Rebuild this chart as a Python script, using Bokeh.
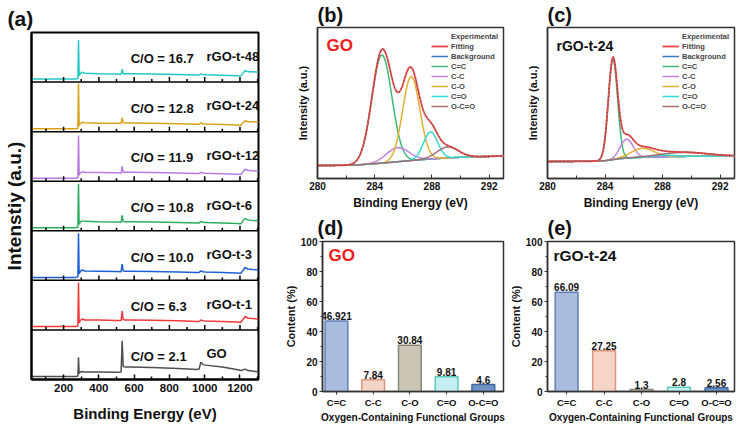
import numpy as np
from bokeh.plotting import figure
from bokeh.models import Range1d, Span, Label, Legend, LegendItem, FixedTicker
from bokeh.layouts import row, column
from bokeh.embed import file_html
from bokeh.resources import INLINE
from bokeh.core.properties import value

FONT = "Liberation Sans"

# ---------------- (a) XPS survey spectra ----------------
SURVEY_X = [20, 150, 270, 281, 284.5, 288, 295, 305, 320, 400, 500, 526, 532, 538, 550, 580,
            700, 850, 955, 968, 978, 990, 1005, 1100, 1180, 1205, 1215, 1228, 1245, 1270, 1305]
SURV_GO = [0.06, 0.06, 0.06, 0.07, 0.45, 0.12, 0.15, 0.16, 0.15, 0.15, 0.145, 0.15, 0.78, 0.26, 0.25, 0.25,
           0.24, 0.22, 0.20, 0.21, 0.35, 0.30, 0.29, 0.25, 0.20, 0.18, 0.19, 0.21, 0.18, 0.17, 0.15]
SURV_T1 = [0.07, 0.07, 0.07, 0.08, 0.95, 0.14, 0.19, 0.22, 0.20, 0.20, 0.19, 0.19, 0.38, 0.21, 0.20, 0.20,
           0.195, 0.185, 0.17, 0.17, 0.20, 0.185, 0.18, 0.17, 0.16, 0.155, 0.20, 0.27, 0.24, 0.23, 0.22]
SURV_T3 = [0.06, 0.06, 0.06, 0.07, 0.95, 0.13, 0.18, 0.21, 0.19, 0.185, 0.18, 0.175, 0.33, 0.19, 0.185, 0.185,
           0.18, 0.17, 0.16, 0.16, 0.19, 0.175, 0.17, 0.16, 0.15, 0.145, 0.19, 0.26, 0.23, 0.22, 0.21]
SURV_T6 = [0.06, 0.06, 0.06, 0.07, 0.95, 0.13, 0.18, 0.20, 0.19, 0.18, 0.175, 0.17, 0.31, 0.185, 0.18, 0.18,
           0.175, 0.165, 0.155, 0.155, 0.19, 0.17, 0.165, 0.155, 0.145, 0.14, 0.19, 0.25, 0.22, 0.21, 0.20]
SURV_T12 = [0.06, 0.06, 0.06, 0.07, 0.92, 0.12, 0.17, 0.19, 0.18, 0.175, 0.17, 0.165, 0.30, 0.18, 0.18, 0.18,
            0.175, 0.165, 0.155, 0.155, 0.18, 0.165, 0.16, 0.15, 0.14, 0.135, 0.18, 0.24, 0.22, 0.21, 0.20]
SURV_T24 = [0.06, 0.06, 0.06, 0.07, 0.97, 0.12, 0.16, 0.19, 0.18, 0.17, 0.17, 0.165, 0.28, 0.18, 0.175, 0.175,
            0.17, 0.16, 0.15, 0.15, 0.18, 0.16, 0.155, 0.145, 0.135, 0.13, 0.17, 0.22, 0.20, 0.20, 0.195]
SURV_T48 = [0.06, 0.06, 0.06, 0.07, 0.85, 0.13, 0.17, 0.20, 0.18, 0.17, 0.165, 0.16, 0.26, 0.17, 0.17, 0.17,
            0.165, 0.155, 0.145, 0.145, 0.165, 0.155, 0.15, 0.14, 0.13, 0.125, 0.17, 0.23, 0.21, 0.21, 0.20]
SAMPLES = ["GO", "rGO-t-1", "rGO-t-3", "rGO-t-6", "rGO-t-12", "rGO-t-24", "rGO-t-48"]   # bottom -> top
CO_RATIO = ["2.1", "6.3", "10.0", "10.8", "11.9", "12.8", "16.7"]
SURVEYS = [SURV_GO, SURV_T1, SURV_T3, SURV_T6, SURV_T12, SURV_T24, SURV_T48]
SURV_COLORS = ["#4f4f4f", "#f0383a", "#1e5fd6", "#2dae5f", "#b57be0", "#d9a21b", "#22c7c7"]
A_TICKS = [200, 400, 600, 800, 1000, 1200]
A_MINOR = [100, 300, 500, 700, 900, 1100, 1300]

# ---------------- (b)/(c) C1s fits ----------------
COMP_NAMES = ["C=C", "C-C", "C-O", "C=O", "O-C=O"]
COMP_COLORS = ["#3cb878", "#c080e0", "#e0b030", "#30d8d8", "#a07070"]
GO_BG_X = [280, 282, 283, 284, 285, 286, 287, 288, 289, 290, 291, 293]
GO_BG_Y = [13, 13.2, 13.8, 14.8, 16, 17.3, 18.5, 19.6, 20.5, 21.2, 21.7, 22.5]
GO_CENTER = [284.5, 285.6, 286.55, 287.9, 289.1]
GO_AMP = [108, 14, 84, 27, 11]
GO_SIGMA = [0.70, 0.80, 0.60, 0.50, 0.75]
R24_BG_X = [280, 283, 284, 284.5, 285, 286, 287, 288, 290, 293]
R24_BG_Y = [17, 17.2, 17.8, 18.8, 19.8, 20.8, 21.4, 21.8, 22.2, 22.5]
R24_CENTER = [284.55, 285.5, 286.6, 288.0, 289.5]
R24_AMP = [100, 19, 9, 1.5, 4]
R24_SIGMA = [0.32, 0.45, 0.80, 0.80, 1.60]

# ---------------- (d)/(e) bar charts ----------------
GROUPS = ["C=C", "C-C", "C-O", "C=O", "O-C=O"]
GO_CONTENT = [46.921, 7.84, 30.84, 9.81, 4.6]
R24_CONTENT = [66.09, 27.25, 1.3, 2.8, 2.56]
BAR_FILL = ["#a9bcdd", "#f4d5c8", "#c9c6b6", "#c4eef2", "#7093c4"]
BAR_LINE = ["#5f7fb5", "#e0957a", "#8a877a", "#5ccbb8", "#3f67a0"]


def base_fig(fw, fh, bl, br, bt, bb, xr, yr, letter, letter_off, ylabel, ylab_size, ylab_standoff,
             title_standoff):
    p = figure(frame_width=fw, frame_height=fh, min_border_left=bl, min_border_right=br,
               min_border_top=bt, min_border_bottom=bb, x_range=xr, y_range=yr,
               toolbar_location=None, output_backend="svg")
    p.grid.visible = False
    p.background_fill_color = "white"
    p.border_fill_color = "white"
    p.outline_line_color = "#333333"
    p.outline_line_width = 1.5
    for ax in p.axis:
        ax.axis_line_color = "#333333"
        ax.axis_line_width = 1.5
        ax.major_tick_line_color = "#333333"
        ax.minor_tick_line_color = "#333333"
        ax.major_label_text_font = FONT
        ax.major_label_text_font_style = "bold"
        ax.major_label_text_color = "#111111"
        ax.axis_label_text_font = FONT
        ax.axis_label_text_font_style = "bold"
        ax.axis_label_text_color = "#111111"
    ay = p.yaxis[0]
    ay.axis_label = ylabel
    ay.axis_label_text_font_size = ylab_size
    ay.axis_label_standoff = ylab_standoff
    p.title.text = letter
    p.title.align = "left"
    p.title.offset = letter_off
    p.title.standoff = title_standoff
    p.title.text_font = FONT
    p.title.text_font_size = "20px"
    p.title.text_font_style = "bold"
    p.title.text_color = "#111111"
    return p


def hide_y_ticks(p):
    ay = p.yaxis[0]
    ay.ticker = FixedTicker(ticks=[])
    ay.major_tick_line_color = None
    ay.minor_tick_line_color = None
    ay.major_label_text_font_size = "0px"


def add_label(p, text, x, y, size, color="#111111"):
    p.add_layout(Label(x=x, y=y, x_units="screen", y_units="screen", text=text,
                       text_font=FONT, text_font_style="bold", text_font_size=size,
                       text_color=color, text_align="left", text_baseline="middle"))


# ---------- panel (a) ----------
pa = base_fig(227, 347, 31, 4, 32, 45, Range1d(18, 1305), Range1d(0, 7), "(a)", -24,
              "Intenstiy (a.u.)", "19px", 7, 6)
pa.title.text_font_size = "21px"
hide_y_ticks(pa)
pa.outline_line_color = "black"
pa.outline_line_width = 2
pa.yaxis[0].axis_line_color = "black"
pa.yaxis[0].axis_line_width = 2
xa = pa.xaxis[0]
xa.ticker = FixedTicker(ticks=A_TICKS, minor_ticks=A_MINOR)
xa.axis_line_color = "black"
xa.axis_line_width = 2
xa.major_tick_in = 5
xa.major_tick_out = 0
xa.minor_tick_in = 3
xa.minor_tick_out = 0
xa.major_tick_line_width = 1.5
xa.minor_tick_line_width = 1.5
xa.major_tick_line_color = "black"
xa.minor_tick_line_color = "black"
xa.major_label_text_font_size = "11.5px"
xa.major_label_standoff = 4
xa.axis_label = "Binding Energy (eV)"
xa.axis_label_text_font_size = "15px"
xa.axis_label_standoff = 10

n = len(SAMPLES)
for k in range(n):
    ys = [v + k for v in SURVEYS[k]]
    pa.line(SURVEY_X, ys, line_color=SURV_COLORS[k], line_width=1.5)
    pa.text(x=[580], y=[k + 0.47], text=["C/O = " + CO_RATIO[k]], text_font=value(FONT),
            text_font_style="bold", text_font_size="13px", text_baseline="middle", text_color="#111111")
    pa.text(x=[1010], y=[k + 0.52], text=[SAMPLES[k]], text_font=value(FONT),
            text_font_style="bold", text_font_size="13px", text_baseline="middle", text_color="#111111")
for k in range(1, n):
    pa.add_layout(Span(location=k, dimension="width", line_color="black", line_width=1.5))
    pa.segment(x0=A_TICKS, y0=[k] * len(A_TICKS), x1=A_TICKS, y1=[k + 0.1] * len(A_TICKS),
               line_color="black", line_width=1.5)
    pa.segment(x0=A_MINOR, y0=[k] * len(A_MINOR), x1=A_MINOR, y1=[k + 0.06] * len(A_MINOR),
               line_color="black", line_width=1.5)


# ---------- panels (b), (c) ----------
def xps_fig(fw, bl, br, bg_x, bg_y, centers, amps, sigmas, name, name_color, name_size, letter):
    p = base_fig(fw, 151, bl, br, 25, 34, Range1d(280, 293), Range1d(0, 151), letter, 0,
                 "Intensity (a.u.)", "11px", 9, 3)
    hide_y_ticks(p)
    ax = p.xaxis[0]
    ax.ticker = FixedTicker(ticks=[280, 284, 288, 292], minor_ticks=[282, 286, 290])
    ax.major_tick_in = 4
    ax.major_tick_out = 0
    ax.minor_tick_in = 3
    ax.minor_tick_out = 0
    ax.major_label_text_font_size = "10px"
    ax.major_label_standoff = 3
    ax.axis_label = "Binding Energy (eV)"
    ax.axis_label_text_font_size = "12px"
    ax.axis_label_standoff = 3
    grid = np.linspace(280, 293, 521)
    bg = np.interp(grid, bg_x, bg_y)
    comps = [bg + a * np.exp(-(grid - c) ** 2 / (2 * s ** 2)) for c, a, s in zip(centers, amps, sigmas)]
    fit = bg + sum(c - bg for c in comps)
    r_bg = p.line(grid, bg, line_color="#3a78c0", line_width=1.5)
    r_comps = [p.line(grid, comp, line_color=col, line_width=1.5) for comp, col in zip(comps, COMP_COLORS)]
    r_fit = p.line(grid, fit, line_color="#f04848", line_width=1.8)
    p.line(grid, fit, line_color="#555555", line_width=1.2, line_dash="1 3")
    r_exp_leg = p.line([], [], line_color="#666666", line_width=2)
    items = [LegendItem(label="Experimental", renderers=[r_exp_leg]),
             LegendItem(label="Fitting", renderers=[r_fit]),
             LegendItem(label="Background", renderers=[r_bg])]
    items += [LegendItem(label=nm, renderers=[r]) for nm, r in zip(COMP_NAMES, r_comps)]
    leg = Legend(items=items, location=(fw - 72, 67), padding=0, margin=0, spacing=0,
                 glyph_width=17, glyph_height=10, label_height=10, label_standoff=3,
                 label_text_font=FONT, label_text_font_style="bold", label_text_font_size="7.5px",
                 border_line_color=None, background_fill_alpha=0)
    p.add_layout(leg)
    add_label(p, name, 9, 133, name_size, color=name_color)
    return p


pb = xps_fig(186, 55, 9, GO_BG_X, GO_BG_Y, GO_CENTER, GO_AMP, GO_SIGMA, "GO", "#ee1c1c", "17px", "(b)")
pc = xps_fig(187, 35, 3, R24_BG_X, R24_BG_Y, R24_CENTER, R24_AMP, R24_SIGMA, "rGO-t-24", "#111111", "14px", "(c)")


# ---------- panels (d), (e) ----------
def bar_fig(fw, bl, br, xr, width, values, name, name_color, name_size, letter, letter_x):
    p = base_fig(fw, 150, bl, br, 29, 35, xr, Range1d(0, 100), letter, letter_x,
                 "Content (%)", "11px", 1, 5)
    xs = list(range(1, len(GROUPS) + 1))
    p.vbar(x=xs, top=values, width=width, bottom=0, fill_color=BAR_FILL, line_color=BAR_LINE, line_width=1.5)
    p.text(x=xs, y=values, text=[str(v) for v in values], text_font=value(FONT), text_font_style="bold",
           text_font_size="10px", text_align="center", text_baseline="bottom", y_offset=-1, text_color="#111111")
    ax = p.xaxis[0]
    ax.ticker = FixedTicker(ticks=xs)
    ax.major_label_overrides = {x: g for x, g in zip(xs, GROUPS)}
    ax.major_tick_in = 0
    ax.major_tick_out = 3
    ax.minor_tick_out = 0
    ax.major_label_text_font_size = "9.5px"
    ax.major_label_standoff = 2
    ax.axis_label = "Oxygen-Containing Functional Groups"
    ax.axis_label_text_font_size = "10px"
    ax.axis_label_standoff = 1
    ay = p.yaxis[0]
    ay.ticker = FixedTicker(ticks=[0, 20, 40, 60, 80, 100], minor_ticks=[10, 30, 50, 70, 90])
    ay.major_tick_in = 0
    ay.major_tick_out = 3
    ay.minor_tick_in = 0
    ay.minor_tick_out = 2
    ay.major_label_text_font_size = "10px"
    ay.major_label_standoff = 2
    add_label(p, name, 6, 136, name_size, color=name_color)
    return p


pd_ = bar_fig(181, 60, 2, Range1d(0.62, 5.55), 0.62, GO_CONTENT, "GO", "#ee1c1c", "17px", "(d)", -5)
pe = bar_fig(187, 42, 5, Range1d(0.49, 5.48), 0.61, R24_CONTENT, "rGO-t-24", "#111111", "15.5px", "(e)", 0)

layout = row(pa, column(row(pb, pc), row(pd_, pe)))
open("out.html", "w").write(file_html(layout, INLINE))
